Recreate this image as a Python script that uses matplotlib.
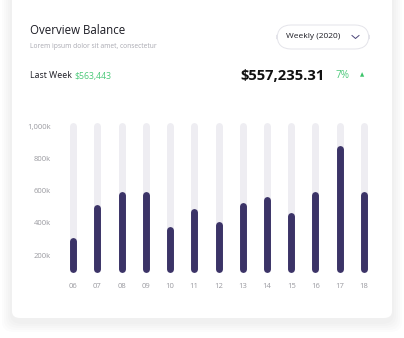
import matplotlib
matplotlib.use("Agg")
import matplotlib.pyplot as plt
from matplotlib.patches import FancyBboxPatch

weeks = ["06", "07", "08", "09", "10", "11", "12", "13", "14", "15", "16", "17", "18"]
balance_k = [290, 490, 570, 570, 355, 465, 385, 505, 540, 440, 570, 855, 570]
max_k = 1000
base_k = 115
y_ticks = [200, 400, 600, 800, 1000]
y_labels = ["200k", "400k", "600k", "800k", "1,000k"]

W, H = 404, 338
plt.rcParams["font.family"] = ["Open Sans", "DejaVu Sans"]

fig = plt.figure(figsize=(W / 100, H / 100), dpi=100)
fig.patch.set_facecolor("white")

def px(x, y):
    return x / W, 1 - y / H

# card with soft shadow
for i, a in enumerate([0.018, 0.018, 0.02, 0.022, 0.025]):
    g = 10 - i * 2
    x0, y0 = px(12 - g, 318 + g + 4)
    sh = FancyBboxPatch((x0, y0), (380 + 2 * g) / W, (340 + g) / H,
                        boxstyle="round,pad=0,rounding_size=0.03",
                        transform=fig.transFigure, fc="#7a7a90", ec="none",
                        alpha=a, zorder=0)
    fig.patches.append(sh)
x0, y0 = px(12, 318)
card = FancyBboxPatch((x0, y0), 380 / W, 340 / H,
                      boxstyle="round,pad=0,rounding_size=0.02",
                      transform=fig.transFigure, fc="white", ec="none", zorder=1)
fig.patches.append(card)

# header texts
fig.text(*px(30, 31), "Overview Balance", fontsize=8.3, color="#1c1c24",
         va="center", ha="left", zorder=3)
fig.text(*px(30, 46), "Lorem ipsum dolor sit amet, consectetur", fontsize=4.8,
         color="#a8a8b0", va="center", ha="left", zorder=3)

# dropdown
x0, y0 = px(277, 49)
pill = FancyBboxPatch((x0, y0), 92 / W, 24 / H,
                      boxstyle="round,pad=0,rounding_size=0.035",
                      transform=fig.transFigure, fc="white", ec="#e4e4ea",
                      lw=0.7, zorder=3, mutation_aspect=W / H)
fig.patches.append(pill)
fig.text(*px(286, 37), "Weekly (2020)", fontsize=6.0, color="#1c1c24",
         va="center", ha="left", zorder=4)
fig.lines.append(plt.Line2D([px(352, 0)[0], px(355.5, 0)[0], px(359, 0)[0]],
                            [px(0, 35.5)[1], px(0, 38.5)[1], px(0, 35.5)[1]],
                            transform=fig.transFigure, color="#4a4478", lw=0.7,
                            zorder=4))

fig.text(*px(30, 76), "Last Week", fontsize=6.3, color="#1c1c24",
         va="center", ha="left", zorder=3)
fig.text(*px(74, 76), "$563,443", fontsize=6.3, color="#4cc97a",
         va="center", ha="left", zorder=3)
fig.text(*px(325, 76), "$557,235.31", fontsize=10.6, color="#111111",
         fontweight="bold", va="center", ha="right", zorder=3)
fig.text(*px(336, 76), "7%", fontsize=7.2, color="#4cc97a",
         va="center", ha="left", zorder=3)
fig.text(*px(362, 75), "\u25b2", fontsize=4, color="#3cc46a",
         va="center", ha="center", zorder=3, family="DejaVu Sans")

# bar chart
ax = fig.add_axes([60.9 / W, 1 - 279.2 / H, 315.2 / W, (279.2 - 109.9) / H], zorder=5)
ax.patch.set_alpha(0)
xs = list(range(len(weeks)))
ax.vlines(xs, base_k, max_k, colors="#eeedf2", linewidth=5.0, capstyle="round")
ax.vlines(xs, base_k, balance_k, colors="#3b3367", linewidth=5.0, capstyle="round")
ax.set_xlim(-0.5, len(weeks) - 0.5)
ax.set_ylim(50, 1100)
ax.set_xticks(xs, weeks)
ax.set_yticks(y_ticks, y_labels)
ax.tick_params(length=0, labelsize=5.5, labelcolor="#9a9aa0")
ax.tick_params(axis="y", pad=7)
ax.tick_params(axis="x", pad=3)
for s in ax.spines.values():
    s.set_visible(False)

fig.savefig("out.png", dpi=100)
